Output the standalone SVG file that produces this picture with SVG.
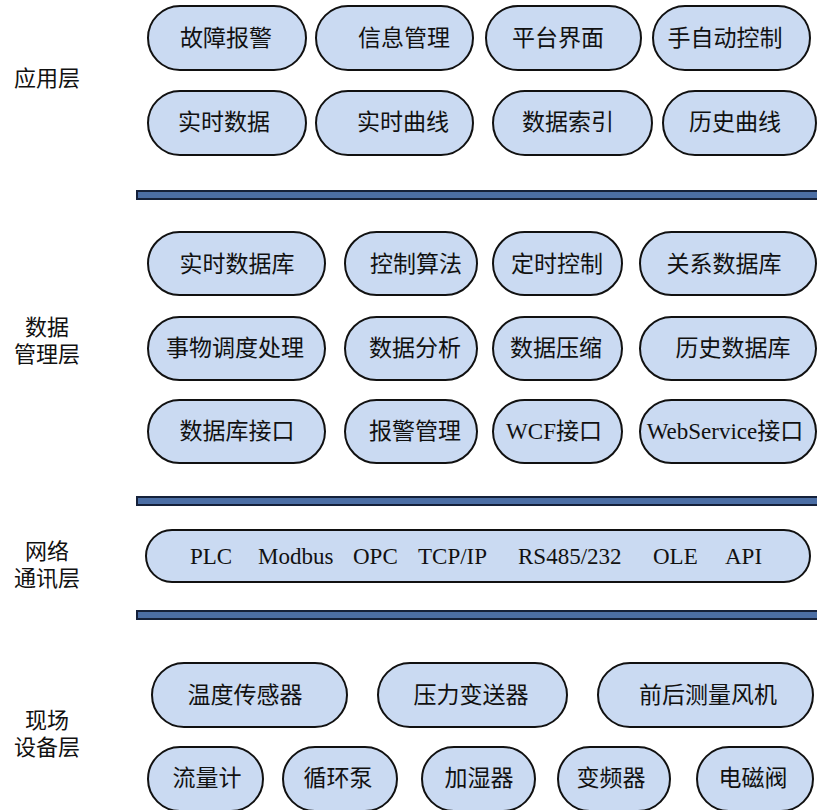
<svg xmlns="http://www.w3.org/2000/svg" width="817" height="810" viewBox="0 0 817 810">
<style>
.p{fill:#cadaf2;stroke:#111;stroke-width:2}
.bar{fill:#4b6ea5;stroke:#15213a;stroke-width:2}
.t{font-family:"Liberation Serif","Noto Sans CJK SC",serif;font-size:23px;fill:#111;text-anchor:middle;dominant-baseline:central}
.lb{font-family:"Liberation Sans","Noto Sans CJK SC",sans-serif;font-size:22px;fill:#111;text-anchor:middle;dominant-baseline:central}
.n{font-family:"Liberation Serif",serif;font-size:23px;fill:#111}
</style>
<rect width="817" height="810" fill="#fff"/>
<g id="labels">
<text class="lb" x="47" y="78">应用层</text>
<text class="lb" x="47" y="327">数据</text>
<text class="lb" x="47" y="354">管理层</text>
<text class="lb" x="47" y="551">网络</text>
<text class="lb" x="47" y="578">通讯层</text>
<text class="lb" x="47" y="720">现场</text>
<text class="lb" x="47" y="747">设备层</text>
</g>
<g id="connectors">
<rect class="bar" x="137" y="191" width="690" height="8"/>
<rect class="bar" x="137" y="497" width="690" height="8"/>
<rect class="bar" x="137" y="611" width="690" height="8"/>
</g>
<g id="n1"><rect class="p" x="148" y="6" width="158" height="64" rx="32"/><text class="t" x="226" y="38">故障报警</text></g>
<g id="n2"><rect class="p" x="316" y="6" width="157" height="64" rx="32"/><text class="t" x="404" y="38">信息管理</text></g>
<g id="n3"><rect class="p" x="486" y="6" width="155" height="64" rx="32"/><text class="t" x="558" y="38">平台界面</text></g>
<g id="n4"><rect class="p" x="653" y="6" width="157" height="64" rx="32"/><text class="t" x="725" y="38">手自动控制</text></g>
<g id="n5"><rect class="p" x="148" y="91" width="158" height="64" rx="32"/><text class="t" x="224" y="122">实时数据</text></g>
<g id="n6"><rect class="p" x="316" y="91" width="157" height="64" rx="32"/><text class="t" x="403" y="122">实时曲线</text></g>
<g id="n7"><rect class="p" x="493" y="91" width="159" height="64" rx="32"/><text class="t" x="568" y="122">数据索引</text></g>
<g id="n8"><rect class="p" x="663" y="91" width="153" height="64" rx="32"/><text class="t" x="735" y="122">历史曲线</text></g>
<g id="d1"><rect class="p" x="148" y="232" width="177" height="63" rx="31.5"/><text class="t" x="237" y="264">实时数据库</text></g>
<g id="d2"><rect class="p" x="345" y="232" width="132" height="63" rx="31.5"/><text class="t" x="416" y="264">控制算法</text></g>
<g id="d3"><rect class="p" x="493" y="232" width="129" height="63" rx="31.5"/><text class="t" x="557" y="264">定时控制</text></g>
<g id="d4"><rect class="p" x="640" y="232" width="176" height="63" rx="31.5"/><text class="t" x="724" y="264">关系数据库</text></g>
<g id="d5"><rect class="p" x="148" y="317" width="177" height="63" rx="31.5"/><text class="t" x="235" y="348">事物调度处理</text></g>
<g id="d6"><rect class="p" x="345" y="317" width="132" height="63" rx="31.5"/><text class="t" x="415" y="348">数据分析</text></g>
<g id="d7"><rect class="p" x="493" y="317" width="129" height="63" rx="31.5"/><text class="t" x="556" y="348">数据压缩</text></g>
<g id="d8"><rect class="p" x="640" y="317" width="176" height="63" rx="31.5"/><text class="t" x="733" y="348">历史数据库</text></g>
<g id="d9"><rect class="p" x="148" y="400" width="177" height="63" rx="31.5"/><text class="t" x="237" y="431">数据库接口</text></g>
<g id="d10"><rect class="p" x="345" y="400" width="132" height="63" rx="31.5"/><text class="t" x="415" y="431">报警管理</text></g>
<g id="d11"><rect class="p" x="493" y="400" width="129" height="63" rx="31.5"/><text class="t" x="554" y="431">WCF接口</text></g>
<g id="d12"><rect class="p" x="640" y="400" width="176" height="63" rx="31.5"/><text class="t" x="725" y="431">WebService接口</text></g>
<g id="net"><rect class="p" x="146" y="530" width="664" height="52" rx="26"/>
<text class="n" x="190" y="564">PLC</text>
<text class="n" x="258" y="564">Modbus</text>
<text class="n" x="353" y="564">OPC</text>
<text class="n" x="418" y="564">TCP/IP</text>
<text class="n" x="518" y="564">RS485/232</text>
<text class="n" x="653" y="564">OLE</text>
<text class="n" x="725" y="564">API</text>
</g>
<g id="f1"><rect class="p" x="152" y="663" width="195" height="64" rx="32"/><text class="t" x="245" y="695">温度传感器</text></g>
<g id="f2"><rect class="p" x="378" y="663" width="189" height="64" rx="32"/><text class="t" x="471" y="695">压力变送器</text></g>
<g id="f3"><rect class="p" x="598" y="663" width="215" height="64" rx="32"/><text class="t" x="708" y="695">前后测量风机</text></g>
<g id="f4"><rect class="p" x="148" y="747" width="115" height="64" rx="32"/><text class="t" x="207" y="778">流量计</text></g>
<g id="f5"><rect class="p" x="283" y="747" width="114" height="64" rx="32"/><text class="t" x="338" y="778">循环泵</text></g>
<g id="f6"><rect class="p" x="422" y="747" width="113" height="64" rx="32"/><text class="t" x="479" y="778">加湿器</text></g>
<g id="f7"><rect class="p" x="558" y="747" width="112" height="64" rx="32"/><text class="t" x="611" y="778">变频器</text></g>
<g id="f8"><rect class="p" x="697" y="747" width="116" height="64" rx="32"/><text class="t" x="753" y="778">电磁阀</text></g>
</svg>
